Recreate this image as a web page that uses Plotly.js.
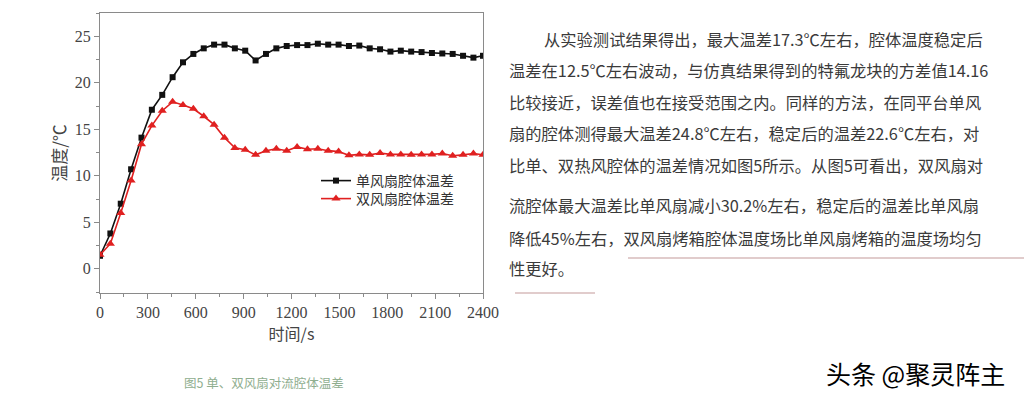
<!DOCTYPE html>
<html>
<head>
<meta charset="utf-8">
<script src="https://cdn.plot.ly/plotly-3.0.1.min.js"></script>
<style>
html,body{margin:0;padding:0;background:#fff;}
#chart{width:1024px;height:397px;}
</style>
</head>
<body>
<div id="chart"></div>
<script>
// ---- data ----
const timeS = [0,65,130,195,260,325,390,455,520,585,650,715,780,845,910,975,1040,1105,1170,1235,1300,1365,1430,1495,1560,1625,1690,1755,1820,1885,1950,2015,2080,2145,2210,2275,2340,2400];
const singleFan = [1.4,3.8,7.0,10.7,14.1,17.1,18.7,20.6,22.2,23.1,23.7,24.1,24.1,23.7,23.45,22.4,23.1,23.7,23.95,24.05,24.05,24.2,24.1,24.1,23.95,24.0,23.7,23.6,23.35,23.45,23.35,23.3,23.2,23.15,23.1,22.9,22.7,22.9];
const doubleFan = [1.5,2.7,6.0,9.5,13.4,15.4,17.0,17.95,17.6,17.2,16.4,15.5,14.1,13.0,12.8,12.25,12.7,12.9,12.7,13.1,12.85,12.9,12.7,12.6,12.2,12.3,12.25,12.45,12.3,12.3,12.25,12.3,12.3,12.4,12.15,12.25,12.4,12.25];
const seriesNames = ['单风扇腔体温差','双风扇腔体温差'];
const xTickVals = [0,300,600,900,1200,1500,1800,2100,2400];
const yTickVals = [0,5,10,15,20,25];
const xTitle = '时间/s';
const yTitle = '温度/℃';
const caption = '图5 单、双风扇对流腔体温差';
const watermark = '头条 @聚灵阵主';
const paragraphLines = [
  '从实验测试结果得出，最大温差17.3℃左右，腔体温度稳定后',
  '温差在12.5℃左右波动，与仿真结果得到的特氟龙块的方差值14.16',
  '比较接近，误差值也在接受范围之内。同样的方法，在同平台单风',
  '扇的腔体测得最大温差24.8℃左右，稳定后的温差22.6℃左右，对',
  '比单、双热风腔体的温差情况如图5所示。从图5可看出，双风扇对',
  '流腔体最大温差比单风扇减小30.2%左右，稳定后的温差比单风扇',
  '降低45%左右，双风扇烤箱腔体温度场比单风扇烤箱的温度场均匀',
  '性更好。'
];

// ---- layout geometry (pixels) ----
const W = 1024, H = 397;
const L = 100, R = 483, T = 13, B = 293;
const px = x => (x - L) / (R - L);
const py = y => (B - y) / (B - T);

const serif = "'Liberation Serif', 'Times New Roman', 'Noto Sans CJK SC', serif";
const cjk = "'Noto Sans CJK SC', 'Liberation Serif', sans-serif";

const traces = [
  {x: timeS, y: singleFan, name: seriesNames[0], type: 'scatter', mode: 'lines+markers', legend: 'legend',
   line: {color: '#111111', width: 1.6}, marker: {symbol: 'square', size: 6, color: '#111111'}},
  {x: timeS, y: doubleFan, name: seriesNames[1], type: 'scatter', mode: 'lines+markers', legend: 'legend2',
   line: {color: '#e02020', width: 1.6}, marker: {symbol: 'triangle-up', size: 8, color: '#e02020'}}
];

const lineStartX = [542,507,507,507,507,507,507,507];
const lineY = [38.5,70,101.5,133,165,205,238,268];
const annotations = paragraphLines.map((t, i) => ({
  text: t, xref: 'paper', yref: 'paper', x: px(lineStartX[i]), y: py(lineY[i]),
  xanchor: 'left', yanchor: 'middle', showarrow: false,
  font: {family: cjk, size: 16.3, color: '#3a3a3a'}
}));
annotations.push({text: caption, xref: 'paper', yref: 'paper', x: px(182), y: py(382),
  xanchor: 'left', yanchor: 'middle', showarrow: false,
  font: {family: cjk, size: 12.5, color: '#8fae8f'}});
annotations.push({text: watermark, xref: 'paper', yref: 'paper', x: px(824), y: py(373),
  xanchor: 'left', yanchor: 'middle', showarrow: false,
  font: {family: cjk, size: 25, color: '#000000'}});

const shapes = [
  {type: 'line', xref: 'paper', yref: 'paper', x0: px(628), x1: px(1024), y0: py(258), y1: py(258),
   line: {color: '#c49a9a', width: 1.2}},
  {type: 'line', xref: 'paper', yref: 'paper', x0: px(515), x1: px(595), y0: py(293), y1: py(293),
   line: {color: '#c49a9a', width: 1.2}}
];

const legendFont = {family: cjk, size: 14, color: '#333'};
const layout = {
  width: W, height: H,
  margin: {l: L, r: W - R, t: T, b: H - B, pad: 0},
  paper_bgcolor: '#ffffff', plot_bgcolor: '#ffffff',
  showlegend: true,
  legend: {x: px(316), y: py(181), xanchor: 'left', yanchor: 'middle', bgcolor: 'rgba(0,0,0,0)',
    font: legendFont, borderwidth: 0},
  legend2: {x: px(316), y: py(199), xanchor: 'left', yanchor: 'middle', bgcolor: 'rgba(0,0,0,0)',
    font: legendFont, borderwidth: 0},
  xaxis: {range: [0, 2400], tickvals: xTickVals, showgrid: false, zeroline: false,
    showline: true, linecolor: '#8a8a8a', linewidth: 1, mirror: true,
    ticks: 'outside', ticklen: 5, tickcolor: '#8a8a8a',
    minor: {dtick: 150, tick0: 0, ticks: 'outside', ticklen: 3, tickcolor: '#8a8a8a', showgrid: false},
    tickfont: {family: serif, size: 16, color: '#444'},
    title: {text: xTitle, font: {family: cjk, size: 16, color: '#444'}, standoff: 8}},
  yaxis: {range: [-2.6, 27.5], tickvals: yTickVals, showgrid: false, zeroline: false,
    showline: true, linecolor: '#8a8a8a', linewidth: 1, mirror: true,
    ticks: 'outside', ticklen: 5, tickcolor: '#8a8a8a',
    minor: {dtick: 2.5, tick0: 0, ticks: 'outside', ticklen: 3, tickcolor: '#8a8a8a', showgrid: false},
    tickfont: {family: serif, size: 16, color: '#444'},
    title: {text: yTitle, font: {family: cjk, size: 17, color: '#444'}, standoff: 3}},
  annotations: annotations,
  shapes: shapes
};

Plotly.newPlot('chart', traces, layout, {displayModeBar: false, staticPlot: true});
</script>
</body>
</html>
